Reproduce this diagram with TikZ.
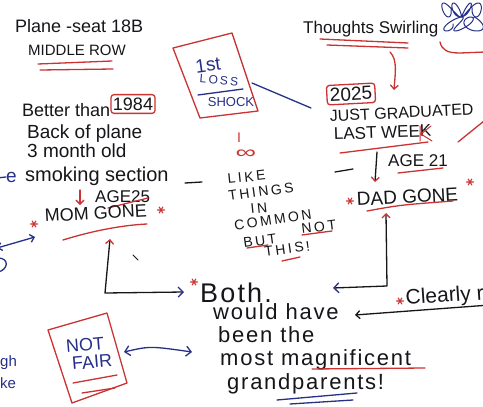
\documentclass[tikz,border=0pt]{standalone}
\usepackage{fontspec}
\setmainfont{Liberation Sans}
\newfontfamily\wf[LetterSpace=8]{Liberation Sans}
\newfontfamily\cf[LetterSpace=18]{Liberation Sans}
\usetikzlibrary{arrows.meta}
\definecolor{inkr}{RGB}{204,50,50}
\definecolor{inkb}{RGB}{38,48,135}
\definecolor{inkk}{RGB}{22,22,26}
\newcommand{\fs}[1]{\fontsize{#1}{#1}\selectfont}
\tikzset{
 txt/.style={inner sep=0pt, anchor=base west, text=inkk},
 btxt/.style={inner sep=0pt, anchor=center, text=inkb},
 rtxt/.style={inner sep=0pt, anchor=center, text=inkr},
 pen/.style={line width=1.3pt, line cap=round, line join=round},
 rpen/.style={pen, draw=inkr},
 bpen/.style={pen, draw=inkb},
 kpen/.style={pen, draw=inkk},
 tip/.style={-{Straight Barb[length=4pt,width=8pt]}},
 boxed/.style={draw=inkr, line width=1.3pt, rounded corners=3pt, inner xsep=2pt, inner ysep=3pt, text=inkk},
 pics/astx/.style={code={\draw[rpen,line width=1.1pt] (-3.5,0)--(3.5,0) (-1.8,-3)--(1.8,3) (-1.8,3)--(1.8,-3);}},
}
\begin{document}
\begin{tikzpicture}[x=1pt,y=-1pt]
\useasboundingbox[fill=white] (0,0) rectangle (483,407);

% top left
\node[txt, font=\fs{18}] (plane) at (15,32) {Plane -seat 18B};
\node[txt, font=\fs{15}] (middle) at (28,55) {MIDDLE ROW};
\draw[rpen] (38,64) -- (112,61);
\draw[rpen] (40,70) -- (113,69);

\node[txt, font=\fs{18}] (better) at (22,116) {Better than};
\node[boxed, font=\fs{18}] (y1984) at (133,104) {1984};
\node[txt, font=\fs{19}] (back) at (27,138) {Back of plane};
\node[txt, font=\fs{19}] (month) at (27,157) {3 month old};
\node[txt, font=\fs{20}] (smoking) at (25,181) {smoking section};
\node[txt, text=inkb, font=\fs{19}] (ecut) at (6,182) {e};
\coordinate (ecutl) at (-3,178);
\draw[bpen] (ecutl) -- (ecut.west);

\node[txt, font=\fs{17}] (age25) at (95,202) {AGE25};
\draw[rpen, tip] (80,190) -- (80,205);
\draw[rpen] (108,208) -- (148,198);

\node[txt, font=\fs{18}, rotate=3] (mom) at (45,222) {MOM GONE};
\pic at (34,224) {astx};
\pic at (161,210) {astx};
\draw[rpen] (63,240) .. controls (95,230) and (125,225) .. (147,224);

\coordinate (momtip) at (110,239);
\coordinate (cL) at (105,293);
\coordinate (bothL) at (184,292);
\draw[kpen, {Straight Barb[color=inkr,length=4pt,width=8pt]}-{Straight Barb[color=inkb,length=5pt,width=10pt]}] (momtip) -- (cL) -- (bothL);
\pic at (194,282) {astx};
\draw[kpen, line width=0.9pt] (133,255) -- (138,260);

% 1st loss shock
\draw[rpen] (173,48) -- (232,33) -- (258,111) -- (200,118) -- cycle;
\node[btxt, font=\fs{19}, rotate=8] (first) at (208,65) {1st};
\node[btxt, font=\cf\fs{12}, rotate=-5] (loss) at (219,80) {LOSS};
\draw[bpen] (198,95) -- (243,89);
\node[btxt, font=\fs{13}] (shock) at (231,102) {SHOCK};
\coordinate (shockr) at (252,83);
\coordinate (to2025) at (311,108);
\draw[bpen] (shockr) -- (to2025);

% thoughts
\node[txt, font=\fs{17}] (thoughts) at (303,33) {Thoughts Swirling};
\draw[rpen] (320,39) -- (408,43);
\draw[rpen] (327,45) -- (408,48);
\draw[rpen, tip] (390,52) .. controls (398,60) and (395,75) .. (394,90);
\draw[bpen, line width=1pt] plot[smooth, domain=0:22, samples=150, variable=\t] ({444+1.6*\t+7*cos(\t r)}, {10+7*sin(1.3*\t r)});
\draw[bpen, line width=1pt] plot[smooth, domain=0:22, samples=150, variable=\t] ({446+1.6*\t+7*cos(\t r)}, {24+7*sin(0.8*\t r)});
\draw[rpen] (440,42) .. controls (442,50) and (447,53) .. (460,53) -- (485,52);

% 2025
\node[boxed, font=\fs{19}, rotate=3, inner xsep=3pt] (y2025) at (351,94) {2025};
\node[txt, font=\fs{16}, rotate=3] (grad) at (330,122) {JUST GRADUATED};
\node[txt, font=\fs{17}, rotate=2] (lastweek) at (334,140) {LAST WEEK};
\draw[rpen, line width=1pt] (420,126) -- (420,141) (431,126) -- (421,134) -- (432,141);
\draw[rpen] (340,153) -- (428,142);
\draw[rpen] (458,142) -- (484,121);

% I love
\node[rtxt, font=\fs{14}] (ii) at (239,138) {I};
\node[rtxt, font=\fs{18}] (inf) at (246,154) {\scalebox{1.6}[1]{∞}};
\node[txt, font=\cf\fs{14}, rotate=6] (like) at (228,184) {LIKE};
\node[txt, font=\cf\fs{14}, rotate=8] (things) at (229,201) {THINGS};
\node[txt, font=\cf\fs{14}, rotate=6] (in) at (251,214) {IN};
\node[txt, font=\cf\fs{14}, rotate=9] (common) at (235,231) {COMMON};
\node[txt, font=\cf\fs{14}, rotate=8] (but) at (244,248) {BUT};
\node[txt, font=\cf\fs{14}, rotate=7] (not) at (302,234) {NOT};
\node[txt, font=\cf\fs{14}, rotate=8] (this) at (265,257) {THIS!};
\draw[rpen] (247,248) -- (268,245);
\draw[rpen] (302,235) -- (332,231);
\draw[rpen] (282,261) -- (300,257);
\draw[kpen] (185,183) -- (202,182);

% age 21 / dad
\coordinate (a21top) at (377,152);
\coordinate (a21tip) at (375,182);
\draw[kpen, -{Straight Barb[color=inkr,length=4pt,width=8pt]}] (a21top) -- (a21tip);
\node[txt, font=\fs{17}] (age21) at (388,166) {AGE 21};
\draw[rpen] (398,173) -- (443,168);
\draw[kpen] (335,172) -- (353,169);

\node[txt, font=\fs{19}, rotate=3] (dad) at (357,206) {DAD GONE};
\pic at (350,201) {astx};
\pic at (470,182) {astx};
\draw[rpen] (367,211) .. controls (400,205) .. (453,201);
\coordinate (dadtip) at (386,213);
\coordinate (cR) at (387,286);
\coordinate (bothR) at (333,288);
\draw[kpen, {Straight Barb[color=inkr,length=4pt,width=8pt]}-{Straight Barb[color=inkb,length=5pt,width=10pt]}] (dadtip) -- (cR) -- (bothR);

% both
\node[txt, font=\wf\fs{27}] (both) at (200,302) {Both.};
\node[txt, font=\wf\fs{22}] (would) at (213,319) {would have};
\node[txt, font=\wf\fs{22}] (been) at (218,342) {been the};
\node[txt, font=\wf\fs{22}] (most) at (220,365) {most magnificent};
\node[txt, font=\wf\fs{22}] (grand) at (227,389) {grandparents!};
\draw[rpen] (312,369) -- (425,368);
\draw[bpen] (277,400) -- (357,393);
\draw[bpen] (290,404) -- (353,400);

% clearly
\node[txt, font=\fs{21}, rotate=4] (clearly) at (406,305) {Clearly r};
\pic at (400,301) {astx};
\coordinate (clr) at (490,305);
\coordinate (clrtip) at (355,315);
\draw[kpen, tip] (clr) -- (clrtip);

% not fair
\draw[rpen] (48,330) -- (107,313) -- (127,383) -- (72,403) -- cycle;
\node[btxt, font=\fs{18}, rotate=5] (notn) at (85,345) {NOT};
\node[btxt, font=\fs{18}, rotate=5] (fair) at (92,362) {FAIR};
\draw[rpen] (73,383) -- (117,375);
\draw[rpen] (82,393) -- (115,388);
\coordinate (nfr) at (124,352);
\coordinate (nfb) at (192,352);
\draw[bpen, {Straight Barb[length=5pt,width=10pt]}-{Straight Barb[length=5pt,width=10pt]}] (nfr) .. controls (150,346) .. (nfb);

% left edge
\node[txt, text=inkb, font=\fs{15}] (gh) at (0,366) {gh};
\node[txt, text=inkb, font=\fs{15}] (ke) at (0,388) {ke};
\coordinate (la) at (-3,248);
\coordinate (lb) at (35,237);
\draw[bpen, {Straight Barb[length=4pt,width=8pt]}-{Straight Barb[length=4pt,width=8pt]}] (la) -- (lb);
\draw[bpen] (-2,258) .. controls (10,258) and (8,270) .. (-2,272);
\end{tikzpicture}
\end{document}
